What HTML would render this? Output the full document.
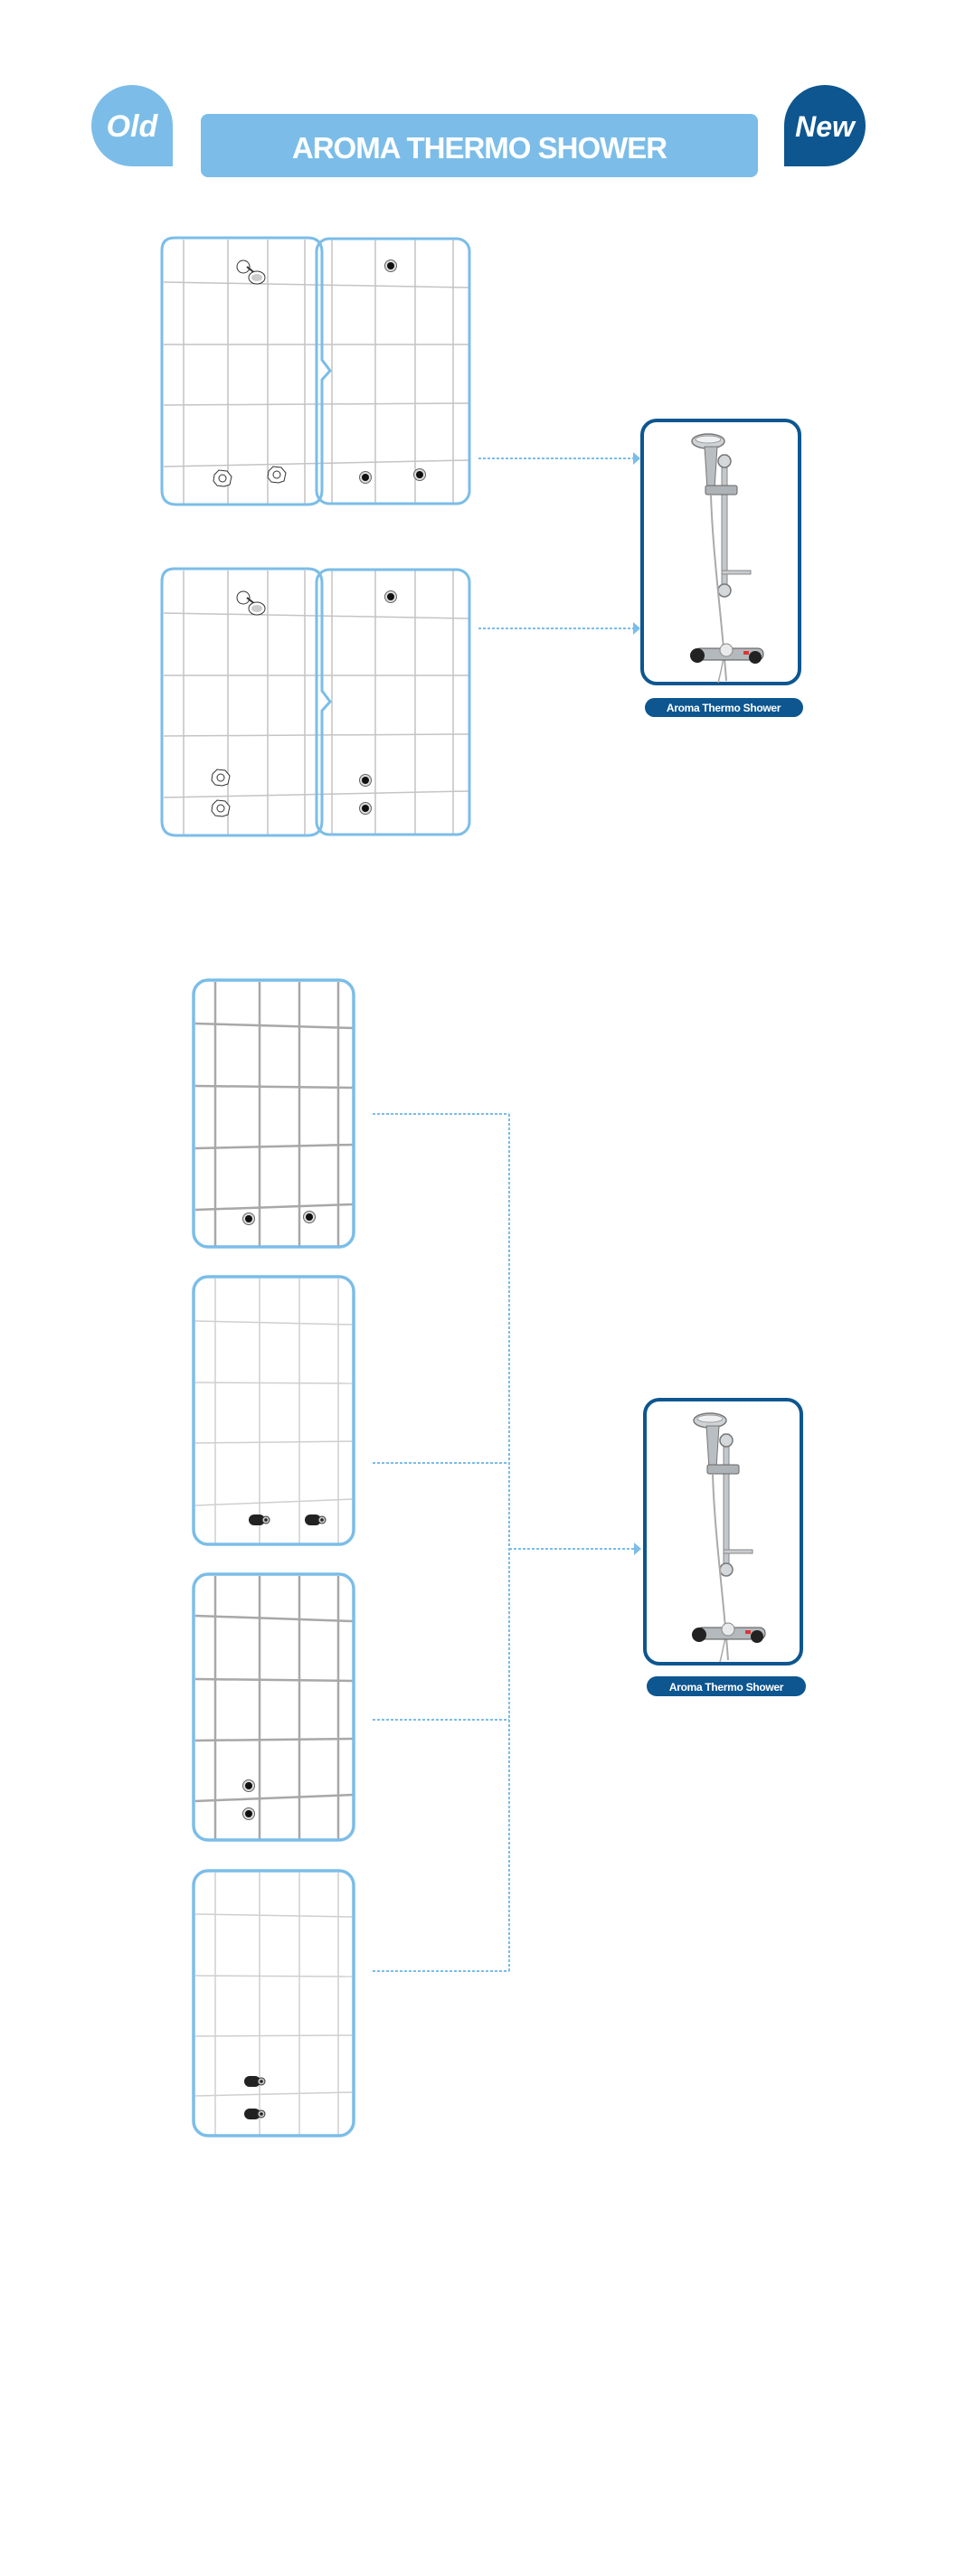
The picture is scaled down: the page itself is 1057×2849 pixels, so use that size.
<!DOCTYPE html>
<html><head><meta charset="utf-8"><style>
html,body{margin:0;padding:0;background:#fff;}
svg{display:block;}
</style></head><body>
<svg width="1057" height="2849" viewBox="0 0 1057 2849" xmlns="http://www.w3.org/2000/svg">
<defs>
  <g id="prod">
    <ellipse cx="75" cy="25" rx="18" ry="8" fill="#cfd3d6" stroke="#777" stroke-width="1.5"/>
    <ellipse cx="75" cy="23" rx="14" ry="4" fill="#eef0f2" stroke="#999" stroke-width="1"/>
    <path d="M71 31 L85 31 L82 78 L74 78 Z" fill="#b9bec2" stroke="#777" stroke-width="1"/>
    <rect x="90" y="40" width="6" height="155" fill="#c4c8cc" stroke="#888" stroke-width="1"/>
    <circle cx="93" cy="47" r="7" fill="#d5d8da" stroke="#777" stroke-width="1.5"/>
    <rect x="72" y="74" width="35" height="10" rx="2" fill="#aeb3b7" stroke="#666" stroke-width="1"/>
    <rect x="90" y="168" width="32" height="4" fill="#c9ccd0" stroke="#888" stroke-width="1"/>
    <circle cx="93" cy="190" r="7" fill="#d5d8da" stroke="#777" stroke-width="1.5"/>
    <path d="M78 84 C80 150 90 220 95 290" fill="none" stroke="#aaa" stroke-width="2"/>
    <path d="M92 265 C90 275 88 285 86 292" fill="none" stroke="#aaa" stroke-width="1.5"/>
    <rect x="60" y="254" width="76" height="13" rx="6" fill="#b4b9bd" stroke="#555" stroke-width="1"/>
    <circle cx="63" cy="262" r="8" fill="#222"/>
    <circle cx="127" cy="264" r="7" fill="#222"/>
    <circle cx="95" cy="256" r="7" fill="#e8eaec" stroke="#888" stroke-width="1"/>
    <rect x="114" y="257" width="6" height="4" fill="#d33"/>
  </g>
  <g id="dot"><circle r="6.5" fill="#ddd" stroke="#666" stroke-width="1"/><circle r="4" fill="#111"/></g>
  <g id="knob"><path d="M-9 -4 L-4 -9 L5 -8 L10 -2 L8 7 L2 9 L-6 8 L-10 3 Z" fill="#fff" stroke="#333" stroke-width="1"/><circle r="4" fill="none" stroke="#333" stroke-width="1"/></g>
  <g id="lever"><rect x="-11" y="-6" width="18" height="12" rx="6" fill="#222"/><circle cx="8" cy="0" r="4" fill="#ccc" stroke="#333" stroke-width="1"/><circle cx="8" cy="0" r="1.8" fill="#222"/></g>
  <g id="head"><circle cx="-8" cy="-6" r="7" fill="#fff" stroke="#333" stroke-width="1"/><path d="M-4 -6 L6 2" stroke="#333" stroke-width="2"/><ellipse cx="7" cy="6" rx="9" ry="7" fill="#fff" stroke="#333" stroke-width="1"/><ellipse cx="7" cy="6" rx="6" ry="4" fill="#ccc"/></g>
</defs>

<!-- Header -->
<path d="M146 94 A45 45 0 1 0 101 139 L101 139 Z" fill="none"/>
<path d="M191 184 L146 184 A45 45 0 1 1 191 139 Z" fill="#7bbde8"/>
<text x="146" y="151" text-anchor="middle" font-family="Liberation Sans, sans-serif" font-weight="bold" font-style="italic" font-size="34" fill="#fff">Old</text>
<path d="M867 184 L912 184 A45 45 0 1 0 867 139 Z" fill="#0d5690"/>
<text x="912" y="151" text-anchor="middle" font-family="Liberation Sans, sans-serif" font-weight="bold" font-style="italic" font-size="32" fill="#fff">New</text>
<rect x="222" y="126" width="616" height="70" rx="8" fill="#7bbde8"/>
<text x="530" y="175" text-anchor="middle" font-family="Liberation Sans, sans-serif" font-weight="bold" font-size="33" fill="#fff" letter-spacing="-1">AROMA THERMO SHOWER</text>

<!-- Section 1 pairs -->
<g id="pair1">
  <g stroke="#c4c4c4" stroke-width="1.5" fill="none">
    <line x1="203" y1="265" x2="203" y2="557"/><line x1="252" y1="265" x2="252" y2="557"/><line x1="296" y1="265" x2="296" y2="557"/><line x1="337" y1="265" x2="337" y2="557"/>
    <line x1="367" y1="265" x2="367" y2="557"/><line x1="415" y1="265" x2="415" y2="557"/><line x1="459" y1="265" x2="459" y2="557"/><line x1="501" y1="265" x2="501" y2="557"/>
    <line x1="181" y1="312" x2="518" y2="318"/><line x1="181" y1="381" x2="518" y2="381"/><line x1="181" y1="448" x2="518" y2="446"/><line x1="181" y1="516" x2="518" y2="509"/>
  </g>
  <rect x="350" y="264" width="169" height="293" rx="14" fill="none" stroke="#7bbde8" stroke-width="3"/>
  <path d="M193 263 L340 263 Q356 263 356 279 L356 398 L365 410 L356 420 L356 542 Q356 558 340 558 L195 558 Q179 558 179 542 L179 277 Q179 263 193 263 Z" fill="none" stroke="#7bbde8" stroke-width="3"/>
  <use href="#head" x="277" y="301"/>
  <use href="#knob" x="246" y="529"/><use href="#knob" x="306" y="525"/>
  <use href="#dot" x="432" y="294"/><use href="#dot" x="404" y="528"/><use href="#dot" x="464" y="525"/>
</g>
<g transform="translate(0,366)">
  <g stroke="#c4c4c4" stroke-width="1.5" fill="none">
    <line x1="203" y1="265" x2="203" y2="557"/><line x1="252" y1="265" x2="252" y2="557"/><line x1="296" y1="265" x2="296" y2="557"/><line x1="337" y1="265" x2="337" y2="557"/>
    <line x1="367" y1="265" x2="367" y2="557"/><line x1="415" y1="265" x2="415" y2="557"/><line x1="459" y1="265" x2="459" y2="557"/><line x1="501" y1="265" x2="501" y2="557"/>
    <line x1="181" y1="312" x2="518" y2="318"/><line x1="181" y1="381" x2="518" y2="381"/><line x1="181" y1="448" x2="518" y2="446"/><line x1="181" y1="516" x2="518" y2="509"/>
  </g>
  <rect x="350" y="264" width="169" height="293" rx="14" fill="none" stroke="#7bbde8" stroke-width="3"/>
  <path d="M193 263 L340 263 Q356 263 356 279 L356 398 L365 410 L356 420 L356 542 Q356 558 340 558 L195 558 Q179 558 179 542 L179 277 Q179 263 193 263 Z" fill="none" stroke="#7bbde8" stroke-width="3"/>
  <use href="#head" x="277" y="301"/>
  <use href="#knob" x="244" y="494"/><use href="#knob" x="244" y="528"/>
  <use href="#dot" x="432" y="294"/><use href="#dot" x="404" y="497"/><use href="#dot" x="404" y="528"/>
</g>

<!-- Section 1 arrows -->
<g stroke="#7bbde8" stroke-width="2" stroke-dasharray="3 2" fill="none">
  <line x1="529" y1="507" x2="701" y2="507"/>
  <line x1="529" y1="695" x2="701" y2="695"/>
</g>
<path d="M700 500 L708 507 L700 514 Z" fill="#7bbde8"/>
<path d="M700 688 L708 695 L700 702 Z" fill="#7bbde8"/>

<rect x="710" y="465" width="174" height="291" rx="16" fill="#fff" stroke="#0d5690" stroke-width="4"/>
<use href="#prod" x="708" y="463"/>
<rect x="713" y="772" width="175" height="21" rx="10.5" fill="#0d5690"/>
<text x="800" y="787" text-anchor="middle" font-family="Liberation Sans, sans-serif" font-weight="bold" font-size="12" fill="#fff" letter-spacing="-0.3">Aroma Thermo Shower</text>

<!-- Section 2 panels -->
<g fill="none">
  <!-- A dark -->
  <g stroke="#a8a8a8" stroke-width="2.5">
    <line x1="238" y1="1086" x2="238" y2="1378"/><line x1="287" y1="1086" x2="287" y2="1378"/><line x1="331" y1="1086" x2="331" y2="1378"/><line x1="374" y1="1086" x2="374" y2="1378"/>
    <line x1="216" y1="1132" x2="390" y2="1137"/><line x1="216" y1="1201" x2="390" y2="1203"/><line x1="216" y1="1270" x2="390" y2="1266"/><line x1="216" y1="1338" x2="390" y2="1332"/>
  </g>
  <rect x="214" y="1084" width="177" height="295" rx="16" stroke="#7bbde8" stroke-width="3.5"/>
  <!-- B light -->
  <g stroke="#cfcfcf" stroke-width="1.5">
    <line x1="238" y1="1414" x2="238" y2="1707"/><line x1="287" y1="1414" x2="287" y2="1707"/><line x1="331" y1="1414" x2="331" y2="1707"/><line x1="374" y1="1414" x2="374" y2="1707"/>
    <line x1="216" y1="1461" x2="390" y2="1465"/><line x1="216" y1="1529" x2="390" y2="1530"/><line x1="216" y1="1596" x2="390" y2="1594"/><line x1="216" y1="1665" x2="390" y2="1658"/>
  </g>
  <rect x="214" y="1412" width="177" height="296" rx="16" stroke="#7bbde8" stroke-width="3.5"/>
  <!-- C dark -->
  <g stroke="#a8a8a8" stroke-width="2.5">
    <line x1="238" y1="1743" x2="238" y2="2034"/><line x1="287" y1="1743" x2="287" y2="2034"/><line x1="331" y1="1743" x2="331" y2="2034"/><line x1="374" y1="1743" x2="374" y2="2034"/>
    <line x1="216" y1="1787" x2="390" y2="1793"/><line x1="216" y1="1857" x2="390" y2="1859"/><line x1="216" y1="1925" x2="390" y2="1923"/><line x1="216" y1="1992" x2="390" y2="1985"/>
  </g>
  <rect x="214" y="1741" width="177" height="294" rx="16" stroke="#7bbde8" stroke-width="3.5"/>
  <!-- D light -->
  <g stroke="#cfcfcf" stroke-width="1.5">
    <line x1="238" y1="2071" x2="238" y2="2361"/><line x1="287" y1="2071" x2="287" y2="2361"/><line x1="331" y1="2071" x2="331" y2="2361"/><line x1="374" y1="2071" x2="374" y2="2361"/>
    <line x1="216" y1="2117" x2="390" y2="2120"/><line x1="216" y1="2185" x2="390" y2="2186"/><line x1="216" y1="2252" x2="390" y2="2251"/><line x1="216" y1="2318" x2="390" y2="2314"/>
  </g>
  <rect x="214" y="2069" width="177" height="293" rx="16" stroke="#7bbde8" stroke-width="3.5"/>
</g>
<use href="#dot" x="275" y="1348"/><use href="#dot" x="342" y="1346"/>
<use href="#lever" x="286" y="1681"/><use href="#lever" x="348" y="1681"/>
<use href="#dot" x="275" y="1975"/><use href="#dot" x="275" y="2006"/>
<use href="#lever" x="281" y="2302"/><use href="#lever" x="281" y="2338"/>

<!-- Section 2 connectors -->
<g stroke="#7bbde8" stroke-width="2" stroke-dasharray="3 2" fill="none">
  <line x1="412" y1="1232" x2="563" y2="1232"/>
  <line x1="412" y1="1618" x2="563" y2="1618"/>
  <line x1="412" y1="1902" x2="563" y2="1902"/>
  <line x1="412" y1="2180" x2="563" y2="2180"/>
  <line x1="563" y1="1232" x2="563" y2="2180"/>
  <line x1="563" y1="1713" x2="702" y2="1713"/>
</g>
<path d="M701 1706 L709 1713 L701 1720 Z" fill="#7bbde8"/>

<rect x="713" y="1548" width="173" height="292" rx="16" fill="#fff" stroke="#0d5690" stroke-width="4"/>
<use href="#prod" x="710" y="1546"/>
<rect x="715" y="1854" width="176" height="22" rx="11" fill="#0d5690"/>
<text x="803" y="1870" text-anchor="middle" font-family="Liberation Sans, sans-serif" font-weight="bold" font-size="12" fill="#fff" letter-spacing="-0.3">Aroma Thermo Shower</text>
</svg>
</body></html>
